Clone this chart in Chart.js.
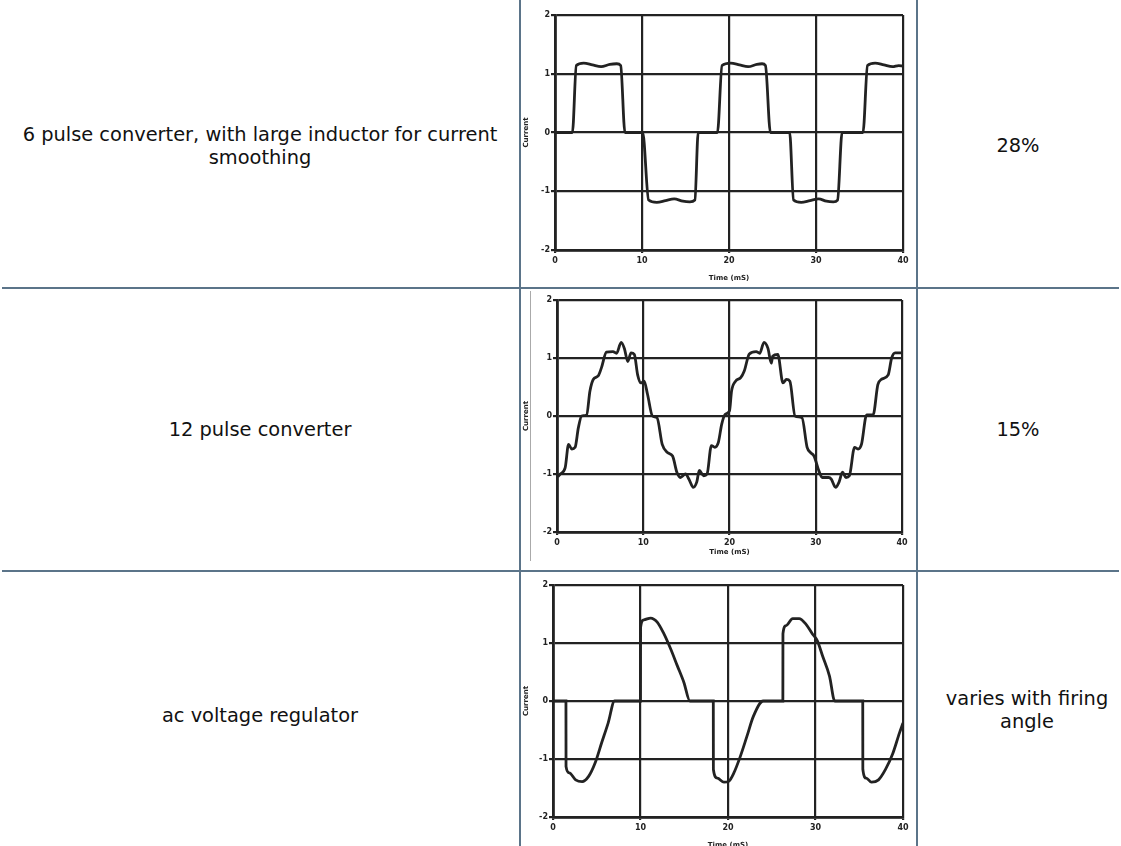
<!DOCTYPE html>
<html>
<head>
<meta charset="utf-8">
<script src="https://cdn.jsdelivr.net/npm/chart.js@4.4.1/dist/chart.umd.min.js"></script>
<style>
  html, body { margin: 0; padding: 0; background: #fff; overflow: hidden; }
  #page { position: relative; width: 1121px; height: 846px; font-family: "DejaVu Sans", Verdana, sans-serif; color: #111; }
  .hl { position: absolute; height: 2px; background: #5b7489; }
  .vl { position: absolute; width: 2px; background: #5b7489; top: 0; height: 846px; }
  .txt { position: absolute; width: 500px; text-align: center; font-size: 19.4px; line-height: 23px; }
  canvas { position: absolute; }
</style>
</head>
<body>
<div id="page">
  <div class="vl" style="left:519px"></div>
  <div class="vl" style="left:916px"></div>
  <div class="hl" style="left:2px; width:1117px; top:287px"></div>
  <div class="hl" style="left:2px; width:1117px; top:570px"></div>
  <div style="position:absolute; left:530px; top:291px; width:1px; height:270px; background:#aaa"></div>

  <div class="txt" style="left:10px; top:123px">6 pulse converter, with large inductor for current<br>smoothing</div>
  <div class="txt" style="left:768px; top:134px">28%</div>
  <div class="txt" style="left:10px; top:418px">12 pulse converter</div>
  <div class="txt" style="left:768px; top:418px">15%</div>
  <div class="txt" style="left:10px; top:704px">ac voltage regulator</div>
  <div class="txt" style="left:777px; top:687px">varies with firing<br>angle</div>

  <canvas id="c1" width="392" height="284" style="left:522px; top:2px"></canvas>
  <canvas id="c2" width="392" height="280" style="left:522px; top:290px"></canvas>
  <canvas id="c3" width="392" height="280" style="left:522px; top:573px"></canvas>
</div>
<script>
// axis ticks (time in ms, current)
var timeTicks = [0, 10, 20, 30, 40];
var currentTicks = [-2, -1, 0, 1, 2];

// 6 pulse converter, large smoothing inductor
var t6 = [0, 2.0, 2.45, 3.3, 4.3, 5.3, 6.3, 7.1, 7.55, 8.04, 10.08, 10.76, 11.7, 12.7, 13.7, 14.7, 15.5, 16.08, 16.46, 18.67, 19.2, 20.2, 21.2, 22.2, 23.2, 23.8, 24.19, 24.76, 26.97, 27.42, 28.3, 29.3, 30.3, 31.2, 32.0, 32.48, 33.0, 35.4, 35.92, 36.8, 37.8, 38.8, 39.5, 40];
var i6 = [0, 0, 1.14, 1.18, 1.15, 1.12, 1.16, 1.17, 1.14, 0, 0, -1.15, -1.19, -1.16, -1.13, -1.17, -1.18, -1.15, 0, 0, 1.14, 1.18, 1.15, 1.12, 1.16, 1.17, 1.14, 0, 0, -1.15, -1.19, -1.16, -1.13, -1.17, -1.18, -1.15, 0, 0, 1.14, 1.18, 1.15, 1.12, 1.14, 1.13];

// 12 pulse converter
var t12 = [0.1, 0.38, 0.95, 1.34, 1.72, 2.1, 2.48, 2.86, 3.44, 3.82, 4.2, 4.77, 5.15, 5.73, 6.49, 6.9, 7.44, 7.82, 8.2, 8.59, 8.97, 9.35, 9.73, 10.1, 10.5, 11.07, 11.6, 12.2, 12.8, 13.4, 13.9, 14.3, 14.9, 15.3, 15.8, 16.2, 16.5, 17.0, 17.4, 17.9, 18.3, 18.7, 19.1, 19.5, 20.0, 20.24, 20.7, 21.3, 21.7, 22.3, 23.1, 23.5, 24.0, 24.45, 24.85, 25.0, 25.6, 26.2, 26.6, 27.0, 27.6, 28.4, 29.0, 29.4, 29.8, 30.35, 30.75, 31.5, 31.8, 32.3, 32.7, 33.1, 33.5, 33.9, 34.5, 34.9, 35.3, 35.9, 36.65, 37.2, 37.6, 38.4, 38.8, 39.2, 39.8, 40];
var i12 = [-1.05, -1.0, -0.89, -0.49, -0.57, -0.54, -0.2, 0, 0.02, 0.43, 0.63, 0.69, 0.83, 1.10, 1.11, 1.08, 1.27, 1.16, 0.94, 1.09, 1.06, 0.71, 0.57, 0.6, 0.37, 0, -0.03, -0.49, -0.63, -0.69, -0.97, -1.06, -1.0, -1.09, -1.23, -1.14, -0.94, -1.03, -1.0, -0.51, -0.54, -0.46, -0.14, 0.03, 0.09, 0.43, 0.6, 0.66, 0.77, 1.07, 1.11, 1.08, 1.27, 1.17, 0.91, 1.03, 1.06, 0.57, 0.63, 0.6, 0, -0.03, -0.54, -0.63, -0.69, -0.94, -1.06, -1.06, -1.09, -1.23, -1.14, -0.97, -1.06, -1.03, -0.54, -0.57, -0.49, 0.02, 0.02, 0.54, 0.63, 0.71, 1.0, 1.09, 1.09, 1.09];

// ac voltage regulator
var tR = [0, 1.48, 1.49, 1.85, 2.59, 3.33, 4.07, 4.81, 5.56, 6.3, 7.04, 10.0, 10.01, 10.38, 11.15, 11.91, 12.67, 13.44, 14.2, 14.96, 15.65, 18.32, 18.33, 18.78, 19.54, 20.11, 20.67, 21.42, 22.16, 22.91, 24.03, 26.27, 26.28, 26.64, 27.39, 28.13, 28.88, 29.63, 30.2, 30.8, 31.6, 32.2, 35.4, 35.41, 35.8, 36.4, 37.2, 38.0, 38.8, 39.6, 40];
var iR = [0, 0, -1.13, -1.24, -1.36, -1.39, -1.3, -1.07, -0.72, -0.38, 0, 0, 1.27, 1.40, 1.43, 1.36, 1.16, 0.9, 0.61, 0.32, 0, 0, -1.18, -1.33, -1.40, -1.38, -1.24, -0.95, -0.61, -0.26, 0, 0, 1.16, 1.3, 1.42, 1.42, 1.33, 1.16, 1.04, 0.78, 0.43, 0, 0, -1.18, -1.33, -1.4, -1.36, -1.18, -0.92, -0.55, -0.38];

var ink = '#222222';
var tickFont = { family: 'DejaVu Sans', size: 8, weight: 'bold' };

function drawWave(id, xs, ys, box) {
    var pts = xs.map(function (x, k) { return { x: x, y: ys[k] }; });
    new Chart(document.getElementById(id).getContext('2d'), {
        type: 'line',
        data: {
            datasets: [{
                data: pts,
                borderColor: ink,
                borderWidth: 2.8,
                pointRadius: 0,
                cubicInterpolationMode: 'monotone',
                fill: false
            }]
        },
        options: {
            responsive: false,
            animation: false,
            layout: { padding: { top: box.top, right: box.right, left: 0, bottom: 0 } },
            plugins: { legend: { display: false }, tooltip: { enabled: false } },
            scales: {
                x: {
                    type: 'linear', min: 0, max: 40,
                    afterBuildTicks: function (s) { s.ticks = timeTicks.map(function (v) { return { value: v }; }); },
                    afterFit: function (s) { s.height = box.xh; },
                    grid: { color: ink, lineWidth: 2.2, tickLength: 3 },
                    border: { color: ink, width: 2.8 },
                    ticks: { color: ink, font: tickFont, padding: 3, maxRotation: 0 },
                    title: { display: true, text: 'Time (mS)', color: ink, font: { family: 'DejaVu Sans', size: 7, weight: 'bold' }, padding: { top: 0, bottom: box.tb } }
                },
                y: {
                    min: -2, max: 2,
                    afterBuildTicks: function (s) { s.ticks = currentTicks.map(function (v) { return { value: v }; }); },
                    afterFit: function (s) { s.width = box.yw; },
                    grid: { color: ink, lineWidth: 2.2, tickLength: 4 },
                    border: { color: ink, width: 2.8 },
                    ticks: { color: ink, font: tickFont, padding: 1 },
                    title: { display: true, text: 'Current', color: ink, font: { family: 'DejaVu Sans', size: 7, weight: 'bold' }, padding: { top: 0, bottom: 2 } }
                }
            }
        }
    });
}

drawWave('c1', t6, i6, { top: 13, right: 11, yw: 33, xh: 36, tb: 4 });
drawWave('c2', t12, i12, { top: 10, right: 12, yw: 35, xh: 38, tb: 14 });
drawWave('c3', tR, iR, { top: 12, right: 11, yw: 31, xh: 36, tb: 4 });
</script>
</body>
</html>
